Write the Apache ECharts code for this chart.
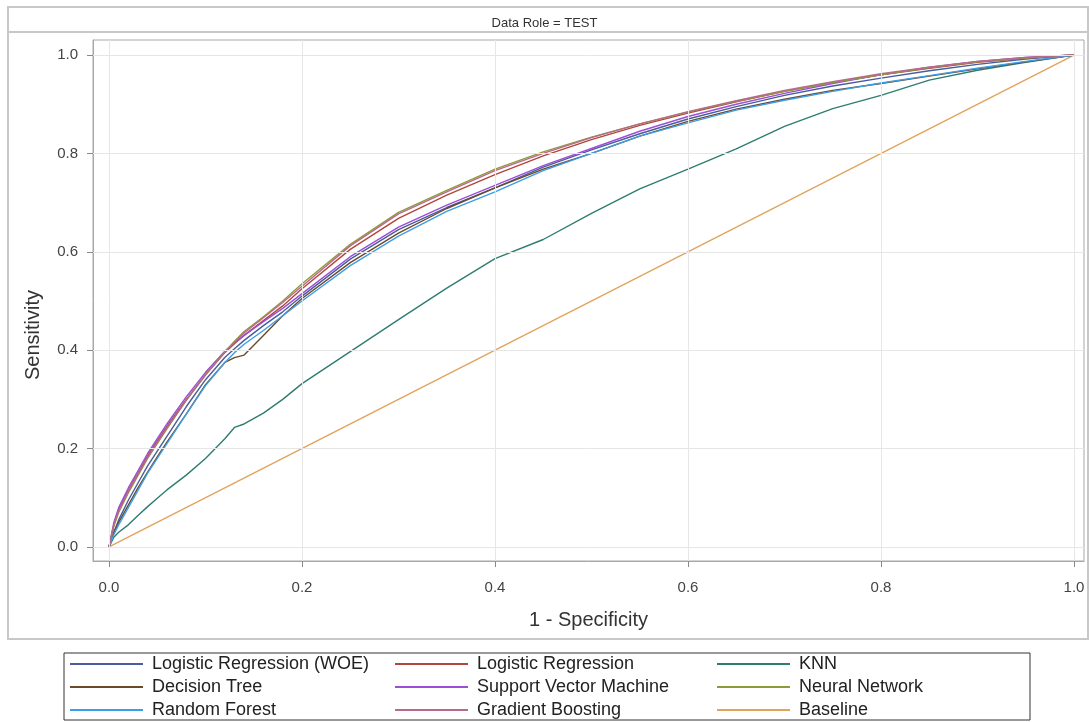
<!DOCTYPE html>
<html>
<head>
<meta charset="utf-8">
<script src="https://cdn.jsdelivr.net/npm/echarts@6/dist/echarts.min.js"></script>
<style>
  html, body { margin: 0; padding: 0; background: #fff; }
  #chart { width: 1089px; height: 722px; }
</style>
</head>
<body>
<div id="chart"></div>
<script>
// ROC curves, TEST partition
var fpr = [0, 0.005, 0.01, 0.02, 0.03, 0.04, 0.05, 0.06, 0.08, 0.1, 0.12, 0.13, 0.14, 0.16, 0.18, 0.2,
           0.25, 0.3, 0.35, 0.4, 0.45, 0.5, 0.55, 0.6, 0.65, 0.7, 0.75, 0.8, 0.85, 0.9, 0.95, 1];

var tprLogWoe = [0, 0.03, 0.055, 0.095, 0.13, 0.165, 0.195, 0.225, 0.285, 0.34, 0.385, 0.403, 0.42, 0.45, 0.478, 0.51,
                 0.585, 0.645, 0.69, 0.73, 0.772, 0.807, 0.84, 0.87, 0.895, 0.918, 0.937, 0.953, 0.968, 0.981, 0.992, 1];
var tprLog = [0, 0.045, 0.075, 0.115, 0.15, 0.185, 0.215, 0.245, 0.3, 0.35, 0.395, 0.413, 0.43, 0.46, 0.49, 0.525,
              0.605, 0.668, 0.715, 0.757, 0.795, 0.828, 0.857, 0.882, 0.905, 0.926, 0.944, 0.96, 0.973, 0.985, 0.994, 1];
var tprKnn = [0, 0.02, 0.03, 0.045, 0.064, 0.082, 0.099, 0.116, 0.146, 0.18, 0.22, 0.243, 0.25, 0.272, 0.3, 0.332,
              0.397, 0.462, 0.526, 0.586, 0.625, 0.678, 0.728, 0.768, 0.809, 0.855, 0.891, 0.918, 0.949, 0.969, 0.985, 1];
var tprTree = [0, 0.03, 0.05, 0.085, 0.12, 0.152, 0.183, 0.213, 0.27, 0.33, 0.375, 0.385, 0.39, 0.43, 0.47, 0.505,
               0.578, 0.638, 0.688, 0.73, 0.768, 0.8, 0.835, 0.865, 0.89, 0.91, 0.928, 0.942, 0.957, 0.972, 0.986, 1];
var tprSvm = [0, 0.05, 0.08, 0.12, 0.155, 0.19, 0.22, 0.25, 0.305, 0.355, 0.398, 0.415, 0.43, 0.458, 0.485, 0.515,
              0.59, 0.65, 0.695, 0.735, 0.775, 0.81, 0.845, 0.875, 0.9, 0.922, 0.942, 0.96, 0.975, 0.987, 0.995, 1];
var tprNeural = [0, 0.042, 0.07, 0.11, 0.145, 0.18, 0.21, 0.24, 0.298, 0.35, 0.397, 0.418, 0.438, 0.468, 0.5, 0.535,
                 0.615, 0.68, 0.725, 0.768, 0.803, 0.833, 0.86, 0.884, 0.906, 0.926, 0.944, 0.96, 0.974, 0.986, 0.994, 1];
var tprForest = [0, 0.025, 0.045, 0.08, 0.115, 0.15, 0.18, 0.21, 0.27, 0.328, 0.375, 0.395, 0.412, 0.44, 0.47, 0.5,
                 0.572, 0.632, 0.682, 0.722, 0.765, 0.8, 0.835, 0.862, 0.888, 0.908, 0.926, 0.943, 0.958, 0.973, 0.987, 1];
var tprBoost = [0, 0.045, 0.073, 0.113, 0.148, 0.182, 0.212, 0.242, 0.298, 0.35, 0.396, 0.416, 0.435, 0.466, 0.497, 0.53,
                0.612, 0.677, 0.722, 0.765, 0.8, 0.832, 0.86, 0.885, 0.907, 0.928, 0.946, 0.962, 0.975, 0.987, 0.995, 1];
var baseX = [0, 1];
var baseY = [0, 1];

var tickValues = [0, 0.2, 0.4, 0.6, 0.8, 1.0];

var models = [
    { name: 'Logistic Regression (WOE)', y: tprLogWoe, color: '#4a5c9a' },
    { name: 'Logistic Regression', y: tprLog, color: '#b0473b' },
    { name: 'KNN', y: tprKnn, color: '#2f7d70' },
    { name: 'Decision Tree', y: tprTree, color: '#6b4a2a' },
    { name: 'Support Vector Machine', y: tprSvm, color: '#9a4fd6' },
    { name: 'Neural Network', y: tprNeural, color: '#8f9a3a' },
    { name: 'Random Forest', y: tprForest, color: '#3d9ee8' },
    { name: 'Gradient Boosting', y: tprBoost, color: '#b56b8c' }
];

var FONT = '"Liberation Sans", Arial, sans-serif';

function pairs(xs, ys) {
    return xs.map(function (x, i) { return [x, ys[i]]; });
}

var series = models.map(function (m) {
    return {
        name: m.name,
        type: 'line',
        data: pairs(fpr, m.y),
        color: m.color,
        showSymbol: false,
        symbol: 'none',
        lineStyle: { width: 1.4, color: m.color },
        z: 3
    };
});

// baseline also carries the grid lines
series.push({
    name: 'Baseline',
    type: 'line',
    data: pairs(baseX, baseY),
    color: '#e0a45e',
    showSymbol: false,
    symbol: 'none',
    lineStyle: { width: 1.4, color: '#e0a45e' },
    z: 2,
    markLine: {
        silent: true,
        symbol: ['none', 'none'],
        label: { show: false },
        lineStyle: { color: '#e6e6e6', width: 1, type: 'solid' },
        data: tickValues.map(function (v) { return { xAxis: v }; })
            .concat(tickValues.map(function (v) { return { yAxis: v }; }))
    }
});

var legendText = { fontFamily: FONT, fontSize: 18, lineHeight: 22, color: '#222', padding: [0, 0, 0, 4] };
function legendCol(left, names) {
    return {
        orient: 'vertical', left: left, top: 653, height: 90,
        padding: 0,
        itemWidth: 73, itemHeight: 2, itemGap: 1,
        icon: 'rect', selectedMode: false,
        textStyle: legendText,
        data: names
    };
}

var axisStyle = { show: true, onZero: false, lineStyle: { color: '#a8a8a8', width: 1 } };

var chart = echarts.init(document.getElementById('chart'));
chart.setOption({
    animation: false,
    backgroundColor: '#fff',
    title: {
        text: 'Data Role = TEST',
        left: 'center', top: 12,
        textStyle: { fontFamily: FONT, fontSize: 13, fontWeight: 'normal', color: '#333' }
    },
    grid: {
        left: 93, top: 40, right: 5, bottom: 161,
        show: true, borderColor: '#a8a8a8', borderWidth: 1
    },
    xAxis: {
        type: 'value',
        min: -0.0166, max: 1.0104,
        axisLine: axisStyle,
        splitLine: { show: false },
        axisTick: { show: true, customValues: tickValues, length: 6, lineStyle: { color: '#888' } },
        axisLabel: {
            customValues: tickValues, margin: 19,
            fontFamily: FONT, fontSize: 15, color: '#444',
            formatter: function (v) { return v.toFixed(1); }
        },
        name: '1 - Specificity',
        nameLocation: 'middle', nameGap: 49,
        nameTextStyle: { fontFamily: FONT, fontSize: 20, color: '#333' }
    },
    yAxis: {
        type: 'value',
        min: -0.0285, max: 1.0305,
        axisLine: axisStyle,
        splitLine: { show: false },
        axisTick: { show: true, customValues: tickValues, length: 6, lineStyle: { color: '#888' } },
        axisLabel: {
            customValues: tickValues, margin: 15,
            fontFamily: FONT, fontSize: 15, color: '#444',
            formatter: function (v) { return v.toFixed(1); }
        }
    },
    legend: [
        legendCol(70, ['Logistic Regression (WOE)', 'Decision Tree', 'Random Forest']),
        legendCol(395, ['Logistic Regression', 'Support Vector Machine', 'Gradient Boosting']),
        legendCol(717, ['KNN', 'Neural Network', 'Baseline'])
    ],
    graphic: [
        { type: 'rect', shape: { x: 8, y: 7, width: 1080, height: 632 },
          style: { fill: 'none', stroke: '#c8c8c8', lineWidth: 2 }, silent: true },
        { type: 'line', shape: { x1: 8, y1: 32, x2: 1088, y2: 32 },
          style: { stroke: '#c8c8c8', lineWidth: 2 }, silent: true },
        { type: 'rect', shape: { x: 64, y: 653, width: 966, height: 67 },
          style: { fill: 'none', stroke: '#333', lineWidth: 1 }, silent: true },
        { type: 'text', x: 33, y: 335, rotation: Math.PI / 2,
          style: { text: 'Sensitivity', align: 'center', verticalAlign: 'middle',
                   font: '20px ' + FONT, fill: '#333' }, silent: true }
    ],
    series: series
});
</script>
</body>
</html>
